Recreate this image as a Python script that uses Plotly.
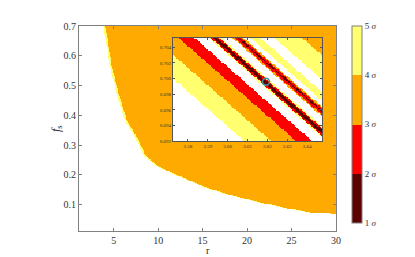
import numpy as np
import plotly.graph_objects as go

# ---------------- data ----------------
# left / lower edge of the allowed (3-4 sigma) region in the main panel
boundary_r = [3.83, 4.58, 5.33, 6.26, 7.58, 8.32, 9.82, 12.44, 15.05, 18.05, 21.04, 23.66, 26.66, 29.64, 31.0]
boundary_f = [0.700, 0.563, 0.474, 0.384, 0.317, 0.267, 0.228, 0.194, 0.160, 0.132, 0.110, 0.093, 0.076, 0.069, 0.066]
main_level = 3.5          # orange: 3-4 sigma
edge_level = 4.5          # yellow fringe along the edge
edge_width_r = 0.22

# inset: diagonal bands, edges given as the r-intercept on the inset's bottom line
inset_stripe_k = 4.466    # dr/df along a stripe
inset_f0 = 0.692
inset_edges = [3.6082, 3.6218, 3.6344, 3.6424, 3.6495, 3.6505, 3.6515, 3.6538,
               3.6548, 3.6558, 3.6615, 3.6625, 3.6640, 3.6650, 3.6661, 3.6671,
               3.6706, 3.6756, 3.6826, 3.6967]
inset_levels = [None, 4.5, 3.5, 2.5, None, 4.5, 2.5, 1.5,
                2.5, 4.5, None, 3.5, 2.5, 1.5, 2.5, 3.5,
                None, 4.5, None, 4.5, 3.5]
best_fit = (3.6193, 0.6996)

main_xticks = [5, 10, 15, 20, 25, 30]
main_yticks = [0.1, 0.2, 0.3, 0.4, 0.5, 0.6, 0.7]
inset_xticks = [3.58, 3.59, 3.60, 3.61, 3.62, 3.63, 3.64]
inset_yticks = [0.692, 0.694, 0.696, 0.698, 0.700, 0.702, 0.704]
cbar_vals = [1, 2, 3, 4, 5]
cbar_text = ['1 <i>σ</i>', '2 <i>σ</i>', '3 <i>σ</i>', '4 <i>σ</i>', '5 <i>σ</i>']

# ---------------- build grids ----------------
r_grid = np.linspace(1.1, 30, 330)
f_grid = np.linspace(0.012, 0.7, 250)
R, F = np.meshgrid(r_grid, f_grid)
rb = np.interp(F, boundary_f[::-1], boundary_r[::-1])
z_main = np.full(R.shape, np.nan)
z_main[R >= rb] = main_level
z_main[(R >= rb) & (R < rb + edge_width_r)] = edge_level

xi = np.linspace(3.5725, 3.6475, 110)
yi = np.linspace(0.692, 0.7052, 78)
XI, YI = np.meshgrid(xi, yi)
W = XI + (YI - inset_f0) * inset_stripe_k
idx = np.searchsorted(inset_edges, W)
lv = np.array([np.nan if v is None else v for v in inset_levels])
z_inset = lv[idx]

DARK, RED, ORANGE, YELLOW = '#5c0000', '#ff0000', '#ffaa00', '#ffff70'
cscale = [[0, DARK], [0.25, DARK], [0.25, RED], [0.5, RED],
          [0.5, ORANGE], [0.75, ORANGE], [0.75, YELLOW], [1, YELLOW]]

fig = go.Figure()
fig.add_trace(go.Heatmap(x=r_grid, y=f_grid, z=z_main, coloraxis='coloraxis',
                         hoverinfo='skip'))
fig.add_trace(go.Heatmap(x=xi, y=yi, z=np.zeros_like(z_inset), xaxis='x2', yaxis='y2',
                         colorscale=[[0, 'white'], [1, 'white']], showscale=False,
                         hoverinfo='skip'))
fig.add_trace(go.Heatmap(x=xi, y=yi, z=z_inset, xaxis='x2', yaxis='y2',
                         coloraxis='coloraxis', hoverinfo='skip'))
fig.add_trace(go.Scatter(x=[best_fit[0]], y=[best_fit[1]], xaxis='x2', yaxis='y2',
                         mode='markers', showlegend=False,
                         marker=dict(symbol='circle-open', size=7, color='#3f8fae',
                                     line=dict(width=1.6))))

serif = 'Liberation Serif'
axcol = '#808080'
fig.update_layout(
    width=415, height=257,
    margin=dict(l=79, r=79, t=26, b=26, autoexpand=False),
    paper_bgcolor='white', plot_bgcolor='white',
    showlegend=False,
    font=dict(family=serif, size=10, color='#333333'),
    coloraxis=dict(cmin=1, cmax=5, colorscale=cscale,
                   colorbar=dict(x=1.062, xanchor='left', y=0.521, yanchor='middle',
                                 len=197, lenmode='pixels', thickness=10, ypad=0, xpad=0,
                                 tickvals=cbar_vals, ticktext=cbar_text,
                                 ticks='', outlinecolor=axcol, outlinewidth=1,
                                 tickfont=dict(family=serif, size=9, color='#333333'))),
    xaxis=dict(domain=[0, 1], range=[1.1, 30], tickvals=main_xticks, automargin=False,
               ticks='inside', ticklen=3, tickcolor=axcol, mirror='ticks',
               showline=True, linecolor=axcol, linewidth=1, showgrid=False, zeroline=False),
    yaxis=dict(domain=[0, 1], range=[0.012, 0.7], tickvals=main_yticks, tickformat='.1f',
               automargin=False,
               ticks='inside', ticklen=3, tickcolor=axcol, mirror='ticks',
               showline=True, linecolor=axcol, linewidth=1, showgrid=False, zeroline=False),
    xaxis2=dict(domain=[0.366, 0.9455], anchor='y2', range=[3.5725, 3.6475],
                tickvals=inset_xticks, tickformat='.2f', automargin=False,
                ticks='inside', ticklen=2, tickcolor='#555555', mirror='ticks',
                showline=True, linecolor='#555555', linewidth=1, showgrid=False, zeroline=False,
                tickfont=dict(size=5, family=serif)),
    yaxis2=dict(domain=[0.439, 0.9415], anchor='x2', range=[0.692, 0.7052],
                tickvals=inset_yticks, tickformat='.3f', automargin=False,
                ticks='inside', ticklen=2, tickcolor='#555555', mirror='ticks',
                showline=True, linecolor='#555555', linewidth=1, showgrid=False, zeroline=False,
                tickfont=dict(size=5, family=serif)),
    annotations=[
        dict(text='r', xref='paper', yref='paper', x=0.5, y=-0.093, showarrow=False,
             xanchor='center', yanchor='middle', borderpad=0,
             font=dict(family=serif, size=10, color='#222222')),
        dict(text='<i>f</i><sub>s</sub>', xref='paper', yref='paper', x=-0.086, y=0.502,
             showarrow=False, textangle=-90, xanchor='center', yanchor='middle',
             font=dict(family=serif, size=12, color='#222222')),
    ],
)

fig.write_html('out.html', config={'displayModeBar': False},
               post_script="document.body.style.margin='0px';document.body.style.overflow='hidden';")
